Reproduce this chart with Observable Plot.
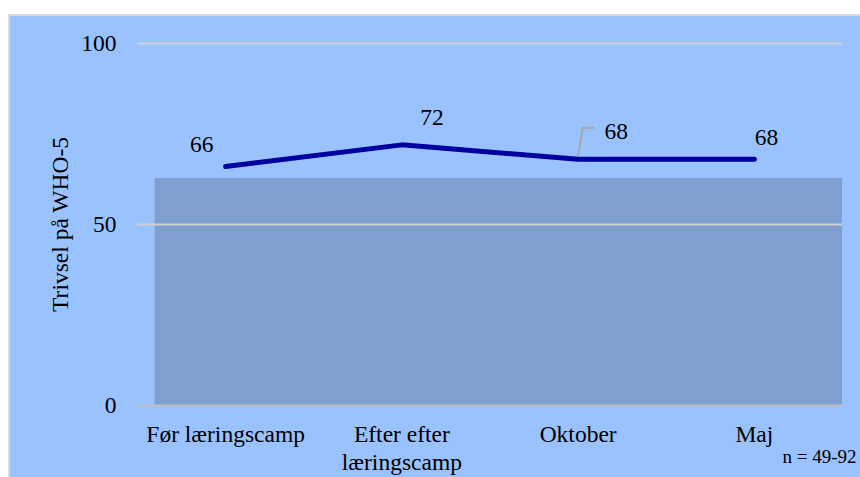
<!DOCTYPE html>
<html><head><meta charset="utf-8">
<script src="https://cdn.jsdelivr.net/npm/d3@7"></script>
<script src="https://cdn.jsdelivr.net/npm/@observablehq/plot@0.6"></script>
<style>
html,body{margin:0;padding:0;background:#fff;}
#wrap{position:relative;width:860px;height:477px;overflow:hidden;}
#bg{position:absolute;left:8px;top:14px;width:870px;height:480px;background:#99c2ff;border-left:2px solid #d9d9d9;border-top:2px solid #d9d9d9;}
#chart{position:absolute;left:0;top:0;}
#chart svg, #chart svg text{font-family:"Liberation Serif","Times New Roman",serif !important;}
</style></head><body>
<div id="wrap"><div id="bg"></div><div id="chart"></div></div>
<script>
const categories = ["Før læringscamp", "Efter efter\nlæringscamp", "Oktober", "Maj"];
const values = [66, 72, 68, 68];
const yTicks = [0, 50, 100];
const referenceLevel = 62.7;
const yLabel = "Trivsel på WHO-5";
const note = "n = 49-92";

const data = categories.map((c, i) => ({category: c, idx: i + 0.5, value: values[i]}));
const font = "Liberation Serif";
const fs = 23.5;

const labelOffsets = [[-24, -22], [30, -27], [38, -28], [12, -22]];
const labelMarks = data.map((d, i) => Plot.text([d], {
  x: "idx", y: "value", text: d => String(d.value),
  dx: labelOffsets[i][0], dy: labelOffsets[i][1], fontSize: fs, fill: "#000", fontFamily: font
}));

const leader = (index, scales) => {
  const px = scales.x(data[2].idx), py = scales.y(data[2].value);
  return d3.create("svg:path")
    .attr("d", `M${px},${py}L${px + 5},${py - 31}L${px + 17},${py - 31}`)
    .attr("fill", "none").attr("stroke", "#a6a6a6").attr("stroke-width", 2).node();
};

const chart = Plot.plot({
  width: 860, height: 477,
  marginLeft: 137, marginRight: 18, marginTop: 43, marginBottom: 72,
  style: {background: "transparent", fontFamily: font, color: "#000", overflow: "visible"},
  x: {type: "linear", domain: [0, 4], axis: null},
  y: {domain: [0, 100], axis: null},
  marks: [
    Plot.rectY([referenceLevel], {x1: 0.1, x2: 4, y1: 0, y2: d => d, fill: "#7f9fd1"}),
    Plot.ruleY(yTicks, {stroke: d => d === 0 ? "#bfbfbf" : "#d0d0d0", strokeWidth: 2}),
    Plot.axisY(yTicks, {tickSize: 0, tickPadding: 21, fontSize: fs, label: null, fontFamily: font}),
    Plot.text(data, {x: "idx", text: "category", frameAnchor: "bottom", dy: 17, lineAnchor: "top", lineHeight: 1.19, fontSize: fs, fontFamily: font}),
    Plot.text([yLabel], {frameAnchor: "left", textAnchor: "middle", rotate: -90, dx: -77, fontSize: fs, fontFamily: font}),
    Plot.text([note], {frameAnchor: "bottom-right", textAnchor: "start", dx: -60, dy: 57, fontSize: 19, fontFamily: font}),
    leader,
    Plot.line(data, {x: "idx", y: "value", stroke: "#0000a0", strokeWidth: 5, strokeLinecap: "round", strokeLinejoin: "round"}),
    ...labelMarks
  ]
});
document.getElementById("chart").append(chart);
</script>
</body></html>
